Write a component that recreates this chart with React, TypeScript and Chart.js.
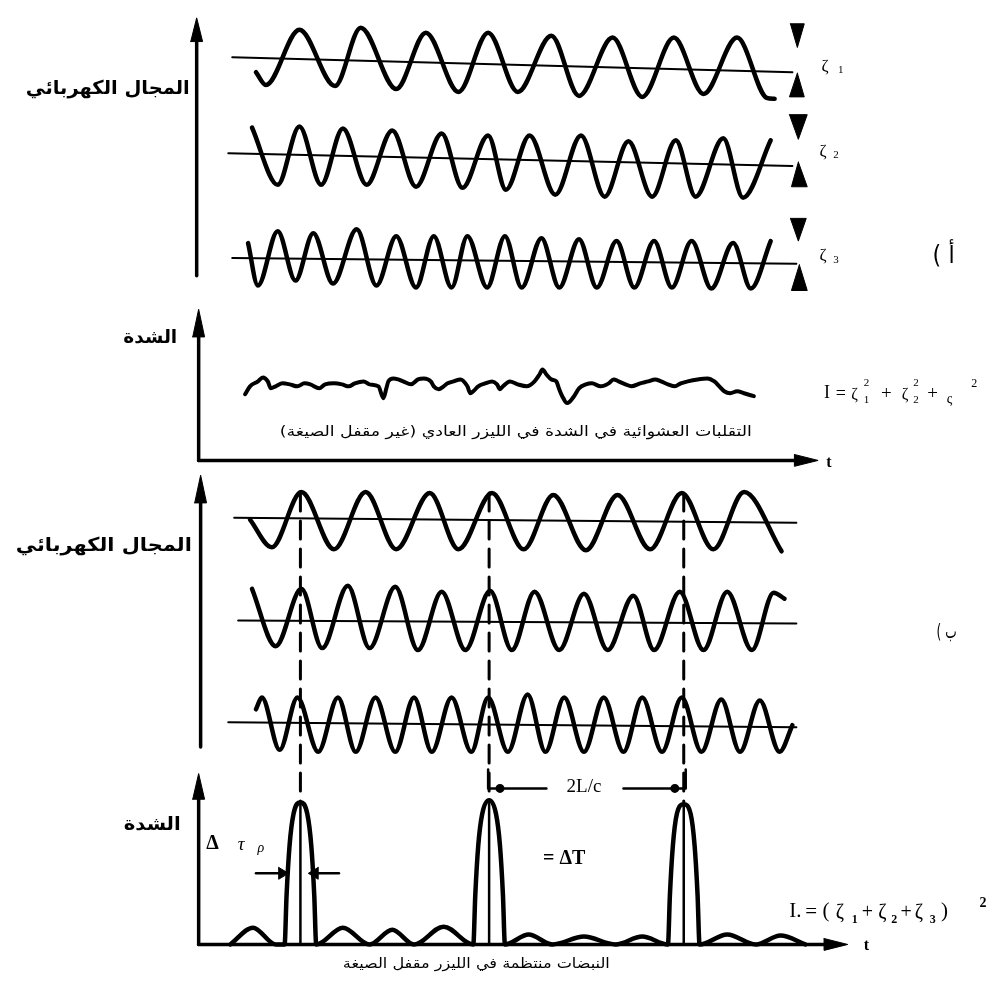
import React, { useEffect, useRef } from "react";
import { Chart, registerables } from "chart.js";
Chart.register(...registerables);

type P = [number, number];

// ================= DATA (x = time position, y = level) =================
// (a) electric field of three longitudinal modes, random phases — alternating extremes
const modeA1: P[] = [[253,67],[263,80],[297,24],[333,81],[359,22],[395,84],[425,27],[458,87],[488,27],[518,87],[552,30],[580,91],[614,32],[644,92],[676,32],[706,89],[740,32],[770,93],[778,94]];
const modeA2: P[] = [[249,123],[275,181],[297,122],[319,181],[341,124],[365,181],[391,126],[415,183],[441,129],[462,184],[488,131],[506,186],[530,131],[556,191],[582,131],[606,193],[630,137],[654,193],[678,136],[698,193],[726,134],[746,194],[774,136]];
const modeA3: P[] = [[245,240],[255,283],[275,228],[293,278],[311,230],[331,281],[355,226],[375,283],[395,233],[415,285],[433,233],[451,285],[467,233],[487,285],[505,233],[522,285],[542,235],[560,285],[580,236],[598,285],[618,238],[636,285],[656,238],[674,285],[694,238],[714,286],[736,240],[754,286],[774,238]];
const baseA1: P[] = [[229,52],[796,67]];
const baseA2: P[] = [[225,149],[796,162]];
const baseA3: P[] = [[229,255],[800,261]];

// intensity of the ordinary (not mode-locked) laser — random fluctuation
const noiseI: P[] = [[242,393],[247,385],[255,380],[260,376],[265,380],[268,387],[273,385],[280,382],[287,383],[295,385],[302,382],[308,383],[317,387],[323,383],[332,382],[340,383],[347,385],[353,382],[362,380],[368,383],[377,385],[382,397],[385,387],[387,380],[392,377],[397,378],[402,380],[410,383],[417,378],[423,377],[430,380],[433,385],[438,388],[443,385],[447,382],[453,380],[460,378],[467,385],[470,392],[473,390],[478,385],[485,382],[492,380],[497,383],[500,388],[503,385],[510,380],[518,383],[527,385],[535,380],[540,373],[543,368],[547,373],[552,378],[557,380],[560,388],[563,395],[568,402],[575,395],[580,387],[587,383],[593,382],[602,385],[610,382],[615,378],[620,380],[627,383],[633,385],[642,382],[650,380],[657,378],[663,380],[670,383],[677,385],[683,382],[690,380],[700,378],[710,377],[717,380],[722,385],[727,390],[733,392],[740,390],[747,392],[757,395]];

// (b) mode-locked field — phases aligned
const modeB1: P[] = [[247,520],[269,548],[299,492],[332,550],[364,492],[395,550],[429,493],[458,550],[492,493],[524,550],[554,495],[587,551],[619,495],[652,550],[684,493],[716,550],[747,492],[785,552]];
const modeB2: P[] = [[249,590],[273,648],[299,590],[320,650],[346,587],[368,650],[394,588],[417,652],[441,593],[465,652],[490,592],[512,652],[535,593],[560,652],[585,595],[609,652],[635,597],[656,652],[682,593],[706,652],[730,593],[755,652],[777,594],[788,600]];
const modeB3: P[] = [[253,712],[259,700],[277,753],[295,700],[316,755],[336,700],[354,755],[374,700],[394,755],[413,700],[431,755],[451,700],[471,755],[488,700],[508,755],[528,697],[546,755],[565,700],[585,755],[605,700],[625,755],[644,700],[664,755],[684,700],[704,755],[724,702],[743,755],[763,703],[783,755],[796,728]];
const baseB1: P[] = [[231,518],[800,523]];
const baseB2: P[] = [[235,622],[800,625]];
const baseB3: P[] = [[225,725],[800,730]];

// pulse train of the mode-locked laser (main pulses + side lobes)
const pulseI: P[] = [[227,950],[250,933],[273,950],[282,950],[284,900],[287,850],[291,818],[298,806],[305,818],[309,850],[312,900],[314,950],[341,933],[368,950],[391,935],[413,950],[443,932],[473,950],[475,900],[478,850],[482,818],[489,804],[496,818],[500,850],[503,900],[505,950],[529,940],[553,950],[585,942],[617,950],[644,942],[670,950],[672,900],[675,850],[679,818],[686,808],[693,818],[697,850],[700,900],[702,950],[730,940],[759,950],[784,941],[809,950]];
const pulseTimes: number[] = [298, 489, 686];

// ================= LAYOUT / STYLE (not data) =================
const W = 997, H = 988;
const SERIF = "'Liberation Serif', 'DejaVu Serif', serif";
const AR = "'DejaVu Sans', sans-serif";

const axesLines: P[][] = [
  [[193,273],[193,24]],
  [[195,460],[195,320]], [[195,460],[806,460]],
  [[197,750],[197,488]],
  [[195,950],[195,790]], [[195,950],[836,950]],
];
const arrowHeads: P[][] = [
  [[187,36],[193,12],[199,36]],
  [[189,335],[195,307],[201,335]], [[798,454],[822,460],[798,466]],
  [[191,503],[197,475],[203,503]],
  [[189,803],[195,777],[201,803]], [[828,944],[852,950],[828,956]],
  [[276,872],[286,878],[276,884]], [[316,872],[306,878],[316,884]],
];
const markers: P[][] = [
  [[794,18],[808,18],[801,42]], [[801,68],[808,92],[793,92]],
  [[793,110],[811,110],[802,135]], [[802,158],[811,183],[795,183]],
  [[794,215],[810,215],[802,238]], [[803,262],[811,288],[795,288]],
];
const thinLines: P[][] = [
  [[253,878],[280,878]], [[337,878],[312,878]],
  [[488,773],[488,792],[547,792]], [[625,792],[688,792],[688,773]],
];
const bracketDots: P[] = [[500,792],[677,792]];

type Tok = { t: string; x: number; y: number; size: number; fam?: string; wt?: string; st?: string; rtl?: boolean; w?: number };
const texts: Tok[] = [
  { t: "المجال الكهربائي", x: 103, y: 84, size: 19, fam: AR, wt: "bold", rtl: true, w: 164 },
  { t: "الشدة", x: 146, y: 336, size: 18, fam: AR, wt: "bold", rtl: true, w: 54 },
  { t: "التقلبات العشوائية في الشدة في الليزر العادي (غير مقفل الصيغة)", x: 516, y: 432, size: 14, fam: AR, rtl: true, w: 472 },
  { t: "المجال الكهربائي", x: 99, y: 547, size: 19, fam: AR, wt: "bold", rtl: true, w: 176 },
  { t: "الشدة", x: 148, y: 829, size: 18, fam: AR, wt: "bold", rtl: true, w: 57 },
  { t: "النبضات منتظمة في الليزر مقفل الصيغة", x: 476, y: 970, size: 14, fam: AR, rtl: true, w: 267 },
  { t: "( أ", x: 949, y: 254, size: 24, fam: AR, w: 22 },
  { t: "( ب", x: 952, y: 634, size: 20, fam: AR, w: 20 },
  // ζ labels
  { t: "ζ", x: 829, y: 61, size: 17, fam: SERIF }, { t: "1", x: 845, y: 65, size: 11, fam: SERIF },
  { t: "ζ", x: 827, y: 147, size: 17, fam: SERIF }, { t: "2", x: 840, y: 151, size: 11, fam: SERIF },
  { t: "ζ", x: 827, y: 253, size: 17, fam: SERIF }, { t: "3", x: 840, y: 257, size: 11, fam: SERIF },
  // middle formula  I = ζ1² + ζ2² + ς²
  { t: "I", x: 831, y: 392, size: 18, fam: SERIF }, { t: "=", x: 845, y: 393, size: 18, fam: SERIF },
  { t: "ζ", x: 859, y: 394, size: 16, fam: SERIF }, { t: "2", x: 871, y: 382, size: 11, fam: SERIF }, { t: "1", x: 871, y: 399, size: 11, fam: SERIF },
  { t: "+", x: 891, y: 393, size: 19, fam: SERIF },
  { t: "ζ", x: 910, y: 394, size: 16, fam: SERIF }, { t: "2", x: 921, y: 382, size: 11, fam: SERIF }, { t: "2", x: 921, y: 399, size: 11, fam: SERIF },
  { t: "+", x: 938, y: 393, size: 19, fam: SERIF },
  { t: "ς", x: 955, y: 398, size: 14, fam: SERIF }, { t: "2", x: 980, y: 382, size: 12, fam: SERIF },
  { t: "t", x: 833, y: 462, size: 16, fam: SERIF, wt: "bold" },
  // bottom panel
  { t: "Δ", x: 209, y: 848, size: 20, fam: SERIF, wt: "bold" },
  { t: "τ", x: 238, y: 849, size: 19, fam: SERIF, st: "italic" },
  { t: "ρ", x: 258, y: 853, size: 14, fam: SERIF, st: "italic" },
  { t: "= ΔT", x: 565, y: 863, size: 20, fam: SERIF, wt: "bold" },
  { t: "2L/c", x: 585, y: 791, size: 19, fam: SERIF },
  { t: "I.", x: 799, y: 917, size: 21, fam: SERIF }, { t: "=", x: 815, y: 918, size: 21, fam: SERIF },
  { t: "(", x: 830, y: 917, size: 21, fam: SERIF },
  { t: "ζ", x: 844, y: 918, size: 20, fam: SERIF }, { t: "1", x: 859, y: 925, size: 12, fam: SERIF, wt: "bold" },
  { t: "+", x: 872, y: 918, size: 20, fam: SERIF },
  { t: "ζ", x: 887, y: 918, size: 20, fam: SERIF }, { t: "2", x: 899, y: 925, size: 12, fam: SERIF, wt: "bold" },
  { t: "+", x: 911, y: 918, size: 20, fam: SERIF },
  { t: "ζ", x: 924, y: 918, size: 20, fam: SERIF }, { t: "3", x: 938, y: 925, size: 12, fam: SERIF, wt: "bold" },
  { t: ")", x: 950, y: 917, size: 21, fam: SERIF }, { t: "2", x: 989, y: 908, size: 14, fam: SERIF, wt: "bold" },
  { t: "t", x: 871, y: 951, size: 16, fam: SERIF, wt: "bold" },
];

// ================= CHART =================
const pts = (a: P[]) => a.map(([x, y]) => ({ x, y }));
const base = (a: P[], extra: any = {}) => ({
  data: pts(a), borderColor: "#000", backgroundColor: "#000", borderWidth: 2,
  pointRadius: 0, fill: false, tension: 0, ...extra,
});
const wave = (a: P[], w = 4.5) => base(a, { borderWidth: w, cubicInterpolationMode: "monotone" });
const poly = (a: P[]) => base([...a, a[0]], { borderWidth: 1, fill: "shape" });

const textPlugin = {
  id: "texts",
  afterDatasetsDraw(chart: any) {
    const { ctx, scales } = chart;
    for (const k of texts) {
      const px = scales.x.getPixelForValue(k.x);
      const py = scales.y.getPixelForValue(k.y);
      ctx.save();
      ctx.font = `${k.st || "normal"} ${k.wt || "normal"} ${k.size}px ${k.fam || SERIF}`;
      ctx.direction = k.rtl ? "rtl" : "ltr";
      ctx.textAlign = "center";
      ctx.textBaseline = "middle";
      ctx.fillStyle = "#000";
      let sx = 1;
      if (k.w) { const m = ctx.measureText(k.t).width; if (m > 0) sx = k.w / m; }
      ctx.translate(px, py);
      ctx.scale(sx, 1);
      ctx.fillText(k.t, 0, 0);
      ctx.restore();
    }
  },
};

export default function App() {
  const ref = useRef<HTMLCanvasElement | null>(null);
  useEffect(() => {
    if (!ref.current) return;
    const datasets: any[] = [
      wave(modeA1), wave(modeA2), wave(modeA3),
      base(baseA1), base(baseA2), base(baseA3),
      wave(noiseI, 4),
      wave(modeB1), wave(modeB2), wave(modeB3),
      base(baseB1), base(baseB2), base(baseB3),
      wave(pulseI, 4.5),
      ...axesLines.map((a) => base(a, { borderWidth: 3.5 })),
      ...arrowHeads.map(poly),
      ...markers.map(poly),
      ...thinLines.map((a) => base(a, { borderWidth: 2.5 })),
      base(bracketDots, { showLine: false, pointRadius: 3.5, pointBackgroundColor: "#000" }),
      ...pulseTimes.map((t) => base([[t, 493], [t, 806]], { borderWidth: 3, borderDash: [18, 10] })),
      ...pulseTimes.map((t) => base([[t, 808], [t, 950]], { borderWidth: 2.5 })),
    ];
    const chart = new Chart(ref.current, {
      type: "line",
      data: { datasets },
      options: {
        responsive: false,
        animation: false,
        devicePixelRatio: 1,
        events: [],
        layout: { padding: 0 },
        plugins: { legend: { display: false }, tooltip: { enabled: false }, title: { display: false } },
        scales: {
          x: { type: "linear", min: 0, max: W, display: false },
          y: { type: "linear", min: 0, max: H, reverse: true, display: false },
        },
        elements: { line: { borderCapStyle: "round", borderJoinStyle: "round" } },
      } as any,
      plugins: [textPlugin],
    });
    return () => chart.destroy();
  }, []);
  return (
    <div style={{ position: "absolute", left: 0, top: 0, width: W, height: H, background: "#fff" }}>
      <canvas ref={ref} width={W} height={H} style={{ width: W, height: H, display: "block" }} />
    </div>
  );
}
